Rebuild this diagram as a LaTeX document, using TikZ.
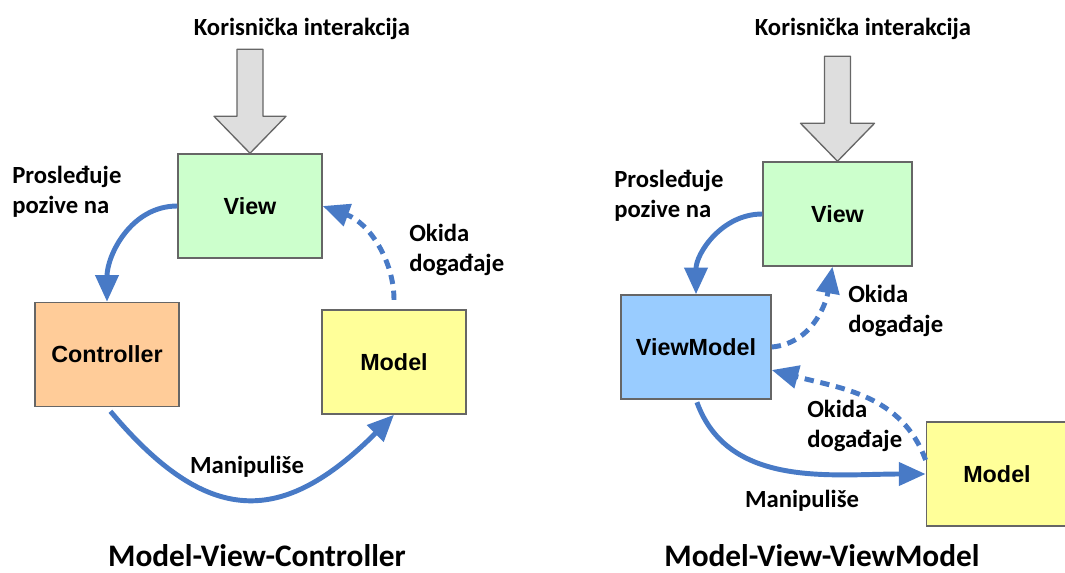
\documentclass[tikz,border=0pt]{standalone}
\usepackage{fontspec}
\setmainfont{Carlito}
\newfontfamily\boxfont{Liberation Sans}
\usetikzlibrary{arrows.meta,calc}
\definecolor{flowblue}{RGB}{72,122,198}
\definecolor{viewgreen}{RGB}{204,255,204}
\definecolor{ctrlorange}{RGB}{255,204,153}
\definecolor{modelyellow}{RGB}{255,255,153}
\definecolor{vmblue}{RGB}{153,204,255}

\begin{document}
\begin{tikzpicture}[x=0.75pt,y=0.75pt,
        box/.style={draw=black!60,line width=1.1pt,inner sep=0pt,
            minimum width=108pt,minimum height=78pt,
            font=\boxfont\bfseries\fontsize{17.5}{20}\selectfont},
        lbl/.style={font=\bfseries\fontsize{18.5}{22.5}\selectfont,
            align=left,inner sep=0pt},
        ttl/.style={font=\bfseries\fontsize{23.5}{28}\selectfont,inner sep=0pt},
        flow/.style={draw=flowblue,line width=3.7pt,
            -{Triangle[length=20pt,width=17pt]}},
        event/.style={flow,dash pattern=on 7pt off 5pt},
        userarrow/.style={draw=black!60,fill=black!13,line width=1pt,
            line join=round}]
\useasboundingbox (0,0) rectangle (1065,-572);

% Model-View-Controller
\node[lbl,anchor=base] (user) at (302,-35) {Korisnička interakcija};
\node[box,fill=viewgreen] (view) at (250,-206) {View};
\node[box,fill=ctrlorange] (ctrl) at (107,-354.5) {Controller};
\node[box,fill=modelyellow] (model) at (394,-362) {Model};
\draw[userarrow] (view.north) -- ++(-36,37) -- ++(23,0) -- ++(0,67)
    -- ++(26,0) -- ++(0,-67) -- ++(23,0) -- cycle;

\draw[flow] (view.west) to[out=180,in=90] (ctrl.north);
\node[lbl,anchor=base west] (fwd) at (12,-213) {Prosleđuje\\pozive na};
\draw[event,shorten <=7pt] (model.north) to[out=90,in=-20] (view.east);
\node[lbl,anchor=base west] (fire) at (409,-271) {Okida\\događaje};
\draw[flow,shorten <=4pt] (ctrl.south) to[out=-50,in=-135,looseness=1.4] (model.south);
\node[lbl,anchor=base] (manip) at (247,-473) {Manipuliše};
\node[ttl,anchor=base] (mvc) at (257,-566) {Model-View-Controller};

% Model-View-ViewModel
\node[lbl,anchor=base] (vuser) at (863,-35) {Korisnička interakcija};
\node[box,fill=viewgreen,minimum width=111.75pt] (vview) at (837.5,-214) {View};
\node[box,fill=vmblue,minimum width=112.5pt] (vm) at (696,-347) {ViewModel};
\node[box,fill=modelyellow,minimum width=106pt] (vmodel) at (997,-474) {Model};
\draw[userarrow] (vview.north) -- ++(-37,38) -- ++(24,0) -- ++(0,67)
    -- ++(26,0) -- ++(0,-67) -- ++(24,0) -- cycle;

\draw[flow] (vview.west) to[out=180,in=90] (vm.north);
\node[lbl,anchor=base west] (vfwd) at (614,-217) {Prosleđuje\\pozive na};
\draw[event] (vm.east) to[out=5,in=-100] ($(vview.south)+(-5,0)$);
\node[lbl,anchor=base west] (vfire) at (848,-332) {Okida\\događaje};
\draw[event] ($(vmodel.west)+(0,14)$) to[out=110,in=-15] ($(vm.east)+(0,-23)$);
\node[lbl,anchor=base west] (mfire) at (807,-447) {Okida\\događaje};
\draw[flow,shorten <=2pt] (vm.south) to[out=-70,in=180] (vmodel.west);
\node[lbl,anchor=base] (vmanip) at (802,-507) {Manipuliše};
\node[ttl,anchor=base] (mvvm) at (822,-566) {Model-View-ViewModel};

\end{tikzpicture}
\end{document}
